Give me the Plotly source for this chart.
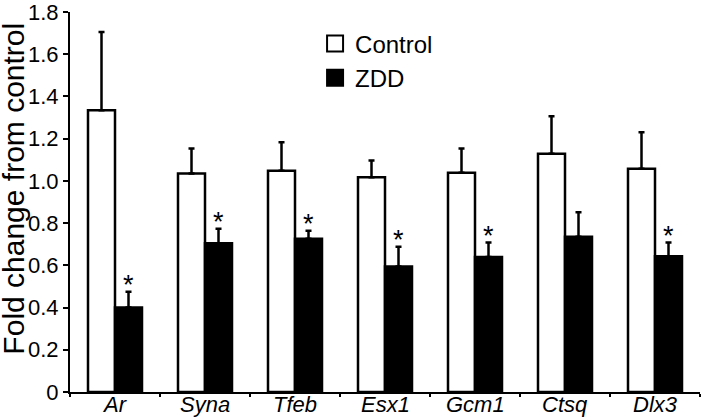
import plotly.graph_objects as go

genes = ["Ar", "Syna", "Tfeb", "Esx1", "Gcm1", "Ctsq", "Dlx3"]
control_mean = [1.335, 1.035, 1.048, 1.017, 1.038, 1.128, 1.057]
control_err = [0.37, 0.118, 0.135, 0.079, 0.115, 0.178, 0.173]
zdd_mean = [0.40, 0.705, 0.726, 0.595, 0.64, 0.735, 0.643]
zdd_err = [0.075, 0.068, 0.038, 0.093, 0.068, 0.117, 0.065]
significant = [True, True, True, True, True, False, True]
y_tickvals = [0, 0.2, 0.4, 0.6, 0.8, 1.0, 1.2, 1.4, 1.6, 1.8]
y_ticktext = ["0", "0.2", "0.4", "0.6", "0.8", "1.0", "1.2", "1.4", "1.6", "1.8"]

FONT = "Liberation Sans, Arial, sans-serif"

fig = go.Figure()
fig.add_trace(go.Bar(
    x=genes, y=control_mean, name="Control", showlegend=False,
    marker=dict(color="white", line=dict(color="black", width=2.5)),
    error_y=dict(type="data", array=control_err, arrayminus=[0]*len(genes),
                 symmetric=False, color="black", thickness=2.5, width=3),
))
fig.add_trace(go.Bar(
    x=genes, y=zdd_mean, name="ZDD", showlegend=False,
    marker=dict(color="black", line=dict(color="black", width=2.5)),
    error_y=dict(type="data", array=zdd_err, arrayminus=[0]*len(genes),
                 symmetric=False, color="black", thickness=2.5, width=3),
))
# legend entries
fig.add_trace(go.Scatter(x=[None], y=[None], mode="markers", name="Control",
                         marker=dict(symbol="square", size=16, color="white",
                                     line=dict(color="black", width=2))))
fig.add_trace(go.Scatter(x=[None], y=[None], mode="markers", name="ZDD",
                         marker=dict(symbol="square", size=16, color="black",
                                     line=dict(color="black", width=2))))

for g, m, e, s in zip(genes, zdd_mean, zdd_err, significant):
    if s:
        fig.add_annotation(x=g, y=m + e, xref="x", yref="y", text="*",
                           showarrow=False, xshift=13.5, yshift=-10,
                           yanchor="bottom",
                           font=dict(family=FONT, size=27, color="black"))

# italic gene names just under the category axis
for g in genes:
    fig.add_annotation(x=g, y=0, xref="x", yref="paper", text=g,
                       showarrow=False, yanchor="top", yshift=2,
                       font=dict(family=FONT, size=22, color="black",
                                 style="italic"))

fig.add_annotation(x=-0.089, y=0.535, xref="paper", yref="paper",
                   text="Fold change from control", textangle=-90,
                   showarrow=False, xanchor="center", yanchor="middle",
                   font=dict(family=FONT, size=30, color="black"))

fig.update_layout(
    width=702, height=417,
    margin=dict(l=70, r=2, t=12, b=25),
    paper_bgcolor="white", plot_bgcolor="white",
    barmode="group", bargap=0.4, bargroupgap=0,
    font=dict(family=FONT, size=24, color="black"),
    legend=dict(x=0.389, y=0.975, xanchor="left", yanchor="top",
                bgcolor="rgba(0,0,0,0)", font=dict(size=24),
                itemsizing="trace"),
    xaxis=dict(showline=True, linecolor="black", linewidth=2,
               ticks="outside", tickson="boundaries", ticklen=3,
               tickwidth=2, tickcolor="black", showgrid=False,
               showticklabels=False, automargin=False),
    yaxis=dict(range=[0, 1.8], showline=True, linecolor="black", linewidth=2,
               ticks="outside", ticklen=5, tickwidth=2, tickcolor="black",
               tickvals=y_tickvals, ticktext=y_ticktext, showgrid=False,
               ticklabeloverflow="allow", automargin=False,
               zeroline=False, tickfont=dict(family=FONT, size=22)),
)

fig.write_html("out.html",
               config={"displayModeBar": False},
               post_script="document.body.style.margin='0';"
                           "document.body.style.padding='0';"
                           "document.body.style.overflow='hidden';")
